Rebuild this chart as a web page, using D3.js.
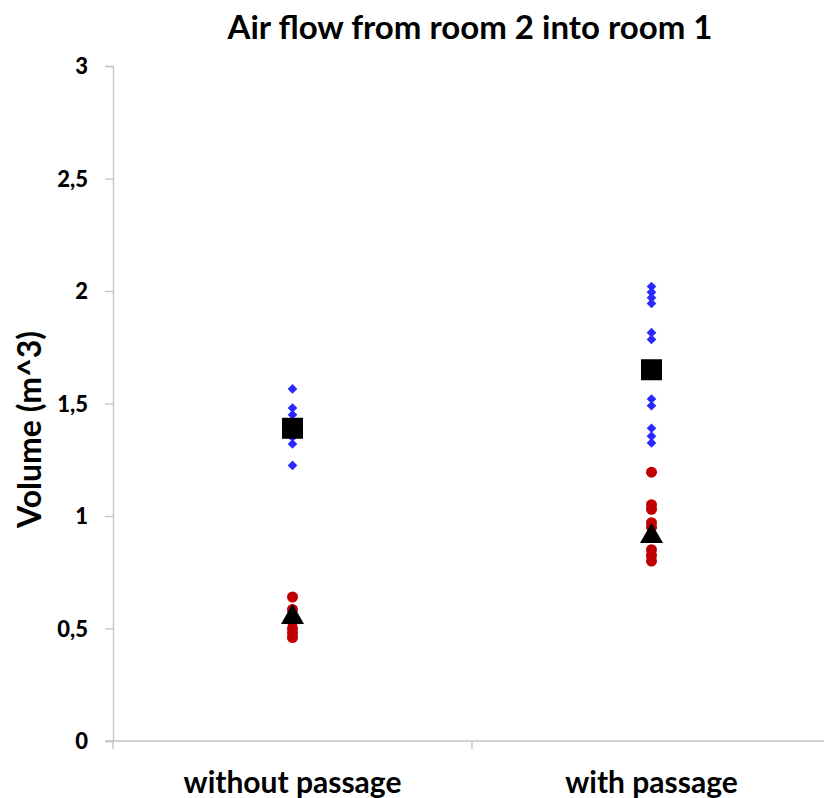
<!DOCTYPE html>
<html>
<head>
<meta charset="utf-8">
<script src="https://cdn.jsdelivr.net/npm/d3@7"></script>
<style>
  html, body { margin: 0; padding: 0; background: #fff; }
  svg { display: block; }
  text { font-family: Lato, "Open Sans", sans-serif; font-weight: 700; fill: #000; }
  .ytick text { font-size: 22px; font-weight: 900; }
</style>
</head>
<body>
<svg id="chart" width="824" height="798"></svg>
<script>
// Categories along the x axis
const categories = ["without passage", "with passage"];

// Individual measurements (m^3)
const blueWithout = [1.565, 1.48, 1.45, 1.40, 1.35, 1.32, 1.225];
const blueWith = [2.02, 1.995, 1.97, 1.945, 1.815, 1.785, 1.52, 1.49, 1.39, 1.355, 1.325];
const redWithout = [0.64, 0.585, 0.56, 0.53, 0.50, 0.48, 0.46];
const redWith = [1.195, 1.05, 1.03, 0.97, 0.95, 0.85, 0.825, 0.80];

// Summary markers per category
const squareValues = [1.39, 1.65];
const triangleValues = [0.55, 0.91];

// Y tick labels
const yTicks = [0, 0.5, 1, 1.5, 2, 2.5, 3];
const yTickLabels = ["0", "0,5", "1", "1,5", "2", "2,5", "3"];

const svg = d3.select("#chart");

const plot = { left: 113, right: 831, top: 66, bottom: 741 };

const x = d3.scaleBand().domain(categories).range([plot.left, plot.right]);
const y = d3.scaleLinear().domain([0, 3]).range([plot.bottom, plot.top]);
const cx = c => x(c) + x.bandwidth() / 2;

const axisColor = "#c4c4c4";

// Y axis
const yAxis = svg.append("g")
  .attr("class", "ytick")
  .attr("transform", `translate(${plot.left},0)`)
  .call(d3.axisLeft(y).tickValues(yTicks).tickSize(8).tickPadding(17)
    .tickFormat((d, i) => yTickLabels[i]));
yAxis.attr("font-size", null).attr("font-family", null);
yAxis.select(".domain").attr("stroke", axisColor).attr("stroke-width", 1.3);
yAxis.selectAll(".tick line").attr("stroke", axisColor).attr("stroke-width", 1.3);
yAxis.selectAll(".tick text").attr("fill", "#000").attr("dy", "0.36em");

// X axis: boundary ticks between categories
const xAxisG = svg.append("g").attr("transform", `translate(0,${plot.bottom})`);
xAxisG.append("line")
  .attr("x1", plot.left - 8).attr("x2", 824)
  .attr("stroke", axisColor).attr("stroke-width", 1.3);
const boundaries = [x(categories[0]), x(categories[1])];
xAxisG.selectAll("line.bound").data(boundaries).join("line")
  .attr("class", "bound")
  .attr("x1", d => d).attr("x2", d => d)
  .attr("y1", 0).attr("y2", 8)
  .attr("stroke", axisColor).attr("stroke-width", 1.3);
xAxisG.selectAll("text.cat").data(categories).join("text")
  .attr("class", "cat")
  .attr("x", d => cx(d)).attr("y", 52)
  .attr("text-anchor", "middle")
  .attr("font-size", 30)
  .text(d => d);

// Title
svg.append("text")
  .attr("x", 470).attr("y", 39)
  .attr("text-anchor", "middle")
  .attr("font-size", 33)
  .text("Air flow from room 2 into room 1");

// Y axis title
svg.append("text")
  .attr("transform", `translate(41,${(plot.top + plot.bottom) / 2 + 26}) rotate(-90)`)
  .attr("text-anchor", "middle")
  .attr("font-size", 32)
  .text("Volume (m^3)");

const marks = svg.append("g");

// Red circles
const redData = [
  ...redWithout.map(v => ({ c: categories[0], v })),
  ...redWith.map(v => ({ c: categories[1], v }))
];
marks.selectAll("circle.red").data(redData).join("circle")
  .attr("class", "red")
  .attr("cx", d => cx(d.c)).attr("cy", d => y(d.v))
  .attr("r", 5.5)
  .attr("fill", "#c00000");

// Blue diamonds
const blueData = [
  ...blueWithout.map(v => ({ c: categories[0], v })),
  ...blueWith.map(v => ({ c: categories[1], v }))
];
const diamond = d3.symbol().type(d3.symbolDiamond2).size(60);
marks.selectAll("path.blue").data(blueData).join("path")
  .attr("class", "blue")
  .attr("transform", d => `translate(${cx(d.c)},${y(d.v)})`)
  .attr("d", diamond)
  .attr("fill", "#2a2aff");

// Black squares
marks.selectAll("rect.sq").data(squareValues).join("rect")
  .attr("class", "sq")
  .attr("x", (d, i) => cx(categories[i]) - 10.5)
  .attr("y", d => y(d) - 10.5)
  .attr("width", 21).attr("height", 21)
  .attr("fill", "#000");

// Black triangles
const tri = d3.symbol().type(d3.symbolTriangle).size(230);
marks.selectAll("path.tri").data(triangleValues).join("path")
  .attr("class", "tri")
  .attr("transform", (d, i) => `translate(${cx(categories[i])},${y(d)})`)
  .attr("d", tri)
  .attr("fill", "#000");
</script>
</body>
</html>
